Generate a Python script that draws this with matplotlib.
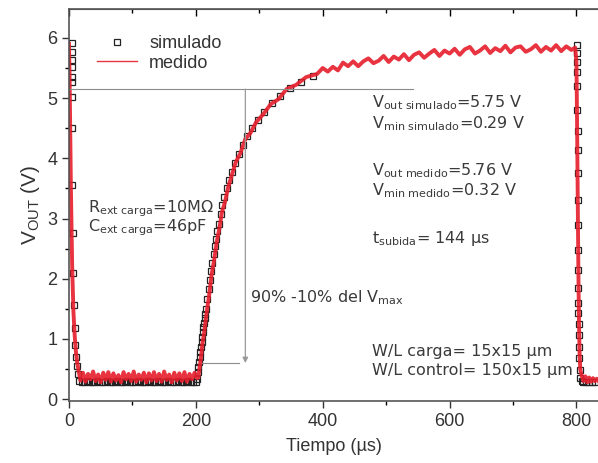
import matplotlib
matplotlib.use("Agg")
from matplotlib import pyplot as plt
from matplotlib.ticker import MultipleLocator

# simulated points (squares)
t_simulado = [4, 4, 4, 4, 4, 4, 4.5, 5, 5.5, 6, 7, 8, 9, 10, 11, 12, 14,
              16, 20, 24, 28, 32, 36, 40, 44, 48, 52, 56, 60, 64, 68, 72, 76, 80, 84, 88,
              92, 96, 100, 104, 108, 112, 116, 120, 124, 128, 132, 136, 140, 144, 148,
              152, 156, 160, 164, 168, 172, 176, 180, 184, 188, 192, 196, 200,
              202, 203, 204, 205, 206, 207, 208, 209, 210, 211, 212, 213, 214, 215, 216,
              218, 220, 222, 224, 226, 228, 230, 232, 234, 236, 239, 242, 245, 249, 253,
              257, 262, 268, 274, 281, 289, 298, 308, 320, 333, 348, 365, 385,
              801, 801, 801, 801, 801.5, 801.5, 802, 802, 802, 802, 802.5, 802.5, 802.5,
              803, 803, 803, 803.5, 803.5, 804, 804.5, 805, 806, 808, 811, 815, 820, 825, 830]
v_simulado = [5.91, 5.76, 5.63, 5.52, 5.35, 5.27, 5.02, 4.5, 3.55, 2.76, 2.09, 1.56, 1.18, 0.9, 0.7, 0.55, 0.42,
              0.30, 0.29, 0.29, 0.30, 0.29, 0.29, 0.29, 0.30, 0.29, 0.29, 0.29, 0.30, 0.29, 0.29, 0.29,
              0.30, 0.29, 0.29, 0.29, 0.30, 0.29, 0.29, 0.29, 0.30, 0.29, 0.29, 0.29, 0.30, 0.29, 0.29,
              0.29, 0.30, 0.29, 0.29, 0.29, 0.30, 0.29, 0.29, 0.29, 0.30, 0.29, 0.29, 0.29, 0.30, 0.29, 0.29,
              0.29,
              0.33, 0.45, 0.54, 0.61, 0.70, 0.78, 0.87, 0.95, 1.03, 1.12, 1.20, 1.27, 1.35, 1.42, 1.50,
              1.67, 1.83, 1.98, 2.13, 2.27, 2.41, 2.54, 2.66, 2.79, 2.91, 3.08, 3.22, 3.35, 3.50, 3.64,
              3.78, 3.92, 4.08, 4.22, 4.37, 4.50, 4.64, 4.77, 4.92, 5.04, 5.16, 5.27, 5.37,
              5.88, 5.75, 5.6, 5.43, 5.2, 4.8, 4.45, 4.14, 3.75, 3.3, 2.9, 2.47, 2.15,
              1.84, 1.6, 1.43, 1.25, 1.06, 0.86, 0.68, 0.48, 0.36, 0.3, 0.29, 0.29, 0.29, 0.29, 0.29]

t_medido = [0, 1, 2, 3, 4, 5, 6, 7, 9, 11, 13, 15,
            18, 22, 26, 30, 34, 38, 42, 46, 50, 54, 58, 62, 66, 70, 74, 78, 82, 86, 90, 94,
            98, 102, 106, 110, 114, 118, 122, 126, 130, 134, 138, 142, 146, 150, 154, 158,
            162, 166, 170, 174, 178, 182, 186, 190, 194, 198, 202,
            204, 206, 208, 210, 213, 217, 221, 225, 229, 233, 237, 241, 246, 251, 257, 263,
            270, 278, 286, 295, 306, 318, 330, 343, 358, 374, 391,
            400, 408, 416, 424, 432, 440, 448, 456, 464, 472, 480, 488, 496, 504, 512, 520,
            528, 536, 544, 552, 560, 568, 576, 584, 592, 600, 608, 616, 624, 632, 640, 648,
            656, 664, 672, 680, 688, 696, 704, 712, 720, 728, 736, 744, 752, 760, 768, 776,
            784, 792,
            798, 800, 801, 802, 803, 804, 805, 806, 808, 811, 814, 817, 820, 823, 826, 829, 832, 835]
v_medido = [5.9, 5.3, 4.4, 3.5, 2.8, 2.2, 1.8, 1.45, 1.05, 0.78, 0.6, 0.48,
            0.31, 0.44, 0.29, 0.42, 0.33, 0.46, 0.30, 0.41, 0.28, 0.44, 0.32, 0.45, 0.29, 0.43, 0.31, 0.40,
            0.28, 0.45, 0.33, 0.42, 0.30, 0.46, 0.29, 0.41, 0.32, 0.44, 0.28, 0.43, 0.31, 0.45, 0.30, 0.42,
            0.29, 0.46, 0.32, 0.41, 0.28, 0.44, 0.31, 0.43, 0.30, 0.45, 0.29, 0.42, 0.33, 0.44, 0.35,
            0.36, 0.54, 0.68, 0.89, 1.10, 1.44, 1.73, 2.08, 2.32, 2.62, 2.83, 3.10, 3.28, 3.52, 3.73, 3.94,
            4.08, 4.32, 4.42, 4.60, 4.73, 4.90, 4.98, 5.15, 5.22, 5.35, 5.40,
            5.50, 5.44, 5.52, 5.46, 5.59, 5.53, 5.61, 5.53, 5.61, 5.66, 5.58, 5.62, 5.70, 5.60, 5.69, 5.64,
            5.73, 5.63, 5.72, 5.76, 5.67, 5.74, 5.80, 5.70, 5.79, 5.74, 5.82, 5.72, 5.81, 5.85, 5.74, 5.79,
            5.86, 5.75, 5.83, 5.78, 5.87, 5.76, 5.84, 5.86, 5.77, 5.81, 5.88, 5.77, 5.85, 5.79, 5.88, 5.78,
            5.86, 5.80,
            5.84, 5.6, 4.6, 3.4, 2.2, 1.3, 0.75, 0.5, 0.4, 0.3, 0.38, 0.28, 0.36, 0.29, 0.35, 0.3, 0.34, 0.3]

# reference lines for the 10%-90% rise time
v_90 = 5.15
v_10 = 0.6
t_flecha = 278

textos = [
    (478, 4.93, r"V$_{out\ simulado}$=5.75 V"),
    (478, 4.57, r"V$_{min\ simulado}$=0.29 V"),
    (478, 3.80, r"V$_{out\ medido}$=5.76 V"),
    (478, 3.47, r"V$_{min\ medido}$=0.32 V"),
    (478, 2.67, r"t$_{subida}$= 144 µs"),
    (30, 3.17, r"R$_{ext\ carga}$=10MΩ"),
    (30, 2.85, r"C$_{ext\ carga}$=46pF"),
    (286, 1.68, r"90% -10% del V$_{max}$"),
    (478, 0.80, "W/L carga= 15x15 µm"),
    (478, 0.47, "W/L control= 150x15 µm"),
]

plt.rcParams['font.family'] = ['Liberation Sans', 'DejaVu Sans']
plt.rcParams['mathtext.default'] = 'regular'

fig = plt.figure(figsize=(5.98, 4.63), dpi=100)
ax = fig.add_axes([69 / 598, 1 - 401 / 463, 1 - 69 / 598, (401 - 9) / 463])

ax.plot(t_simulado, v_simulado, linestyle='none', marker='s', markersize=5,
        markerfacecolor='none', markeredgecolor='#222222', markeredgewidth=0.9,
        label='simulado')
ax.plot(t_medido, v_medido, color='#e61e2b', linewidth=2.8, alpha=0.9, label='medido')

# gray guide lines and arrow
ax.plot([0, 543], [v_90, v_90], color='#8c8c8c', linewidth=0.8)
ax.plot([210, 268], [v_10, v_10], color='#8c8c8c', linewidth=0.8)
ax.annotate('', xy=(t_flecha, v_10), xytext=(t_flecha, v_90),
            arrowprops=dict(arrowstyle='-|>', color='#999999', lw=0.9,
                            mutation_scale=8, shrinkA=0, shrinkB=0))

for x, y, s in textos:
    ax.text(x, y, s, fontsize=11.5, color='#3a3a3a', va='center', ha='left',
            family='DejaVu Sans')

ax.set_xlim(0, 834)
ax.set_ylim(-0.03, 6.48)
ax.xaxis.set_major_locator(MultipleLocator(200))
ax.xaxis.set_minor_locator(MultipleLocator(100))
ax.yaxis.set_major_locator(MultipleLocator(1))
ax.yaxis.set_minor_locator(MultipleLocator(0.5))
ax.tick_params(which='major', direction='out', length=5, width=1, labelsize=13,
               colors='#333333')
ax.tick_params(which='minor', direction='out', length=3, width=1)

top = ax.secondary_xaxis('top')
top.xaxis.set_major_locator(MultipleLocator(200))
top.xaxis.set_minor_locator(MultipleLocator(100))
top.tick_params(which='major', direction='in', length=5, width=1, labeltop=False)
top.tick_params(which='minor', direction='in', length=3, width=1)
top.spines['top'].set_color('#555555')

for side in ['left', 'bottom', 'top']:
    ax.spines[side].set_color('#555555')
    ax.spines[side].set_linewidth(1.2)
ax.spines['right'].set_visible(False)

ax.set_xlabel("Tiempo (µs)", fontsize=13, color='#333333', labelpad=6)
ax.set_ylabel(r"V$_{OUT}$ (V)", fontsize=15, color='#333333', labelpad=4)

leg = ax.legend(loc='upper left', bbox_to_anchor=(0.022, 0.975), frameon=False,
                fontsize=13, handlelength=2.2, handletextpad=0.7, labelspacing=0.15)
for txt in leg.get_texts():
    txt.set_color('#333333')
leg.get_lines()[1].set_linewidth(1.0)

fig.savefig("out.png", dpi=100)
